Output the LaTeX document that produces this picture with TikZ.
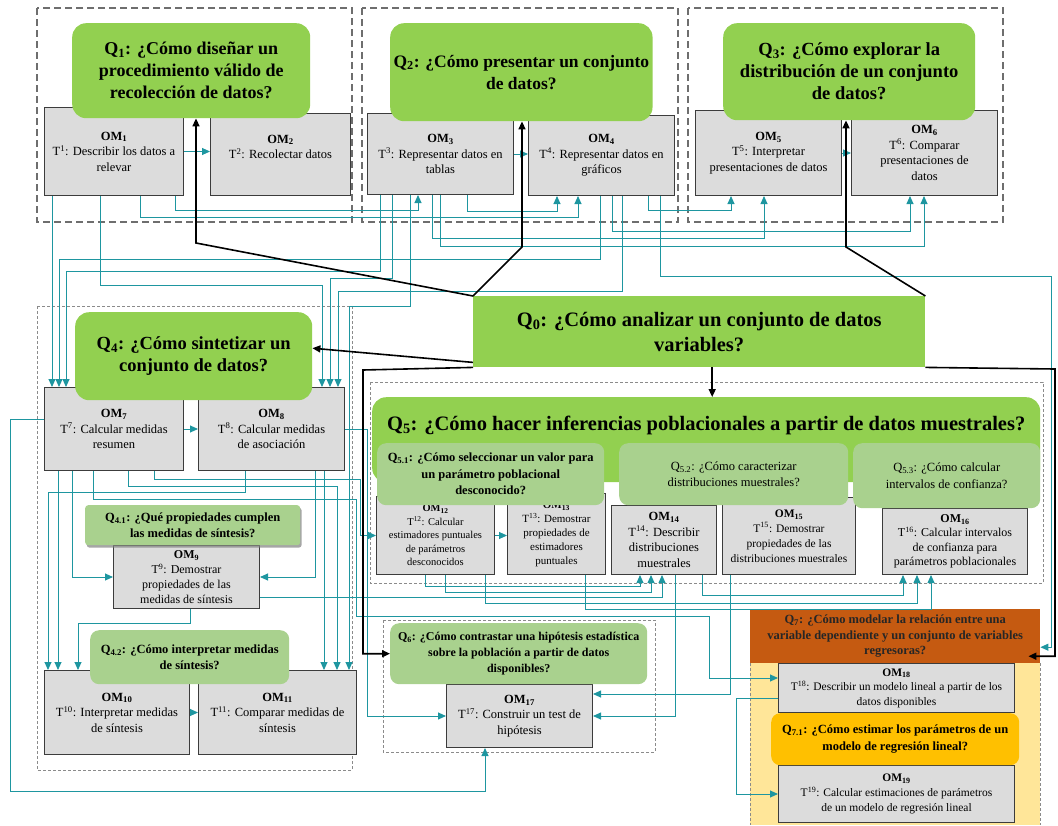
\documentclass[tikz,border=0pt]{standalone}
\usepackage{fontspec}
\setmainfont{Liberation Serif}
\usetikzlibrary{arrows.meta, shadows}
\definecolor{QGreen}{RGB}{146,208,80}
\definecolor{SubGreen}{RGB}{169,209,142}
\definecolor{OMFill}{RGB}{220,220,220}
\definecolor{OMBorder}{RGB}{60,60,60}
\definecolor{LinkColor}{RGB}{30,150,160}
\definecolor{FrameGray}{RGB}{110,110,110}
\definecolor{RegColor}{RGB}{197,90,17}
\definecolor{RegSubColor}{RGB}{255,192,0}
\definecolor{RegBack}{RGB}{255,230,153}
\tikzstyle{om} = [draw=OMBorder, fill=OMFill, line width=1pt, anchor=north west, align=center, inner sep=1pt, font=\fontsize{12.5}{15.5}\selectfont]
\tikzstyle{qmain} = [fill=QGreen, rounded corners=14pt, anchor=north west, align=center, font=\bfseries\fontsize{18.5}{22}\selectfont]
\tikzstyle{qsub} = [fill=SubGreen, rounded corners=9pt, anchor=north west, align=center, inner sep=2pt, font=\bfseries\fontsize{12.5}{16.5}\selectfont]
\tikzstyle{frame} = [draw=FrameGray, dash pattern=on 7pt off 4pt, line width=1.5pt]
\tikzstyle{thinframe} = [draw=FrameGray!80, dash pattern=on 3pt off 2pt, line width=0.6pt]
\tikzstyle{link} = [LinkColor, line width=0.9pt, -{Triangle[length=8pt,width=7pt]}]
\tikzstyle{mainarrow} = [black, line width=1.6pt, -{Triangle[length=8pt,width=7pt]}]

\begin{document}
\begin{tikzpicture}[x=1pt, y=-1pt]
\useasboundingbox (0,0) rectangle (1058,825);

% Frames
\draw[frame] (37,8) rectangle (352,222);
\draw[frame] (362,8) rectangle (678,222);
\draw[frame] (688,8) rectangle (1003,222);
\draw[thinframe] (37,306) rectangle (352,770);
\draw[thinframe] (370,382) rectangle (1043,583);
\draw[thinframe] (383,620) rectangle (655,752);
\fill[RegBack] (750,663) rectangle (1040,825);
\draw[thinframe] (750,663) -- (750,825) (1040,663) -- (1040,825);

% Tasks
\node[om, minimum width=139pt, minimum height=88pt] (om1) at (44,107) {\textbf{OM\textsubscript{1}}\\T\textsuperscript{1}: Describir los datos a\\relevar};
\node[om, minimum width=140pt, minimum height=82pt] (om2) at (210,113) {\textbf{OM\textsubscript{2}}\\T\textsuperscript{2}: Recolectar datos\\~};
\node[om, minimum width=146pt, minimum height=81pt] (om3) at (367,113) {\textbf{OM\textsubscript{3}}\\T\textsuperscript{3}: Representar datos en\\tablas};
\node[om, minimum width=146pt, minimum height=80pt] (om4) at (528,115) {\textbf{OM\textsubscript{4}}\\T\textsuperscript{4}: Representar datos en\\gráficos};
\node[om, minimum width=146pt, minimum height=85pt] (om5) at (695,110) {\textbf{OM\textsubscript{5}}\\T\textsuperscript{5}: Interpretar\\presentaciones de datos};
\node[om, minimum width=146pt, minimum height=85pt] (om6) at (851,110) {\textbf{OM\textsubscript{6}}\\T\textsuperscript{6}: Comparar\\presentaciones de\\datos};
\node[om, minimum width=139pt, minimum height=83pt] (om7) at (44,387) {\textbf{OM\textsubscript{7}}\\T\textsuperscript{7}: Calcular medidas\\resumen};
\node[om, minimum width=146pt, minimum height=83pt] (om8) at (198,387) {\textbf{OM\textsubscript{8}}\\T\textsuperscript{8}: Calcular medidas\\de asociación};
\node[om, minimum width=146pt, minimum height=63pt, font=\fontsize{12}{15}\selectfont] (om9) at (113,545) {\textbf{OM\textsubscript{9}}\\T\textsuperscript{9}: Demostrar\\propiedades de las\\medidas de síntesis};
\node[om, minimum width=145pt, minimum height=84pt] (om10) at (44,670) {\textbf{OM\textsubscript{10}}\\T\textsuperscript{10}: Interpretar medidas\\de síntesis};
\node[om, minimum width=158pt, minimum height=84pt] (om11) at (198,670) {\textbf{OM\textsubscript{11}}\\T\textsuperscript{11}: Comparar medidas de\\síntesis};
\node[om, minimum width=118pt, minimum height=78pt, font=\fontsize{10.5}{13.5}\selectfont] (om12) at (376,496) {\textbf{OM\textsubscript{12}}\\T\textsuperscript{12}: Calcular\\estimadores puntuales\\de parámetros\\desconocidos};
\node[om, minimum width=98pt, minimum height=81pt, font=\fontsize{11}{14}\selectfont] (om13) at (507,493) {\textbf{OM\textsubscript{13}}\\T\textsuperscript{13}: Demostrar\\propiedades de\\estimadores\\puntuales};
\node[om, minimum width=105pt, minimum height=69pt] (om14) at (611,505) {\textbf{OM\textsubscript{14}}\\T\textsuperscript{14}: Describir\\distribuciones\\muestrales};
\node[om, minimum width=133pt, minimum height=77pt, font=\fontsize{11.5}{15}\selectfont] (om15) at (722,497) {\textbf{OM\textsubscript{15}}\\T\textsuperscript{15}: Demostrar\\propiedades de las\\distribuciones muestrales};
\node[om, minimum width=145pt, minimum height=66pt, font=\fontsize{12}{14.5}\selectfont] (om16) at (882,508) {\textbf{OM\textsubscript{16}}\\T\textsuperscript{16}: Calcular intervalos\\de confianza para\\parámetros poblacionales};
\node[om, minimum width=146pt, minimum height=63pt] (om17) at (446,684) {\textbf{OM\textsubscript{17}}\\T\textsuperscript{17}: Construir un test de\\hipótesis};
\node[om, minimum width=236pt, minimum height=49pt, font=\fontsize{11.5}{14.5}\selectfont] (om18) at (778,663) {\textbf{OM\textsubscript{18}}\\T\textsuperscript{18}: Describir un modelo lineal a partir de los\\datos disponibles};
\node[om, minimum width=236pt, minimum height=57pt, font=\fontsize{11.5}{15}\selectfont] (om19) at (778,765) {\textbf{OM\textsubscript{19}}\\T\textsuperscript{19}: Calcular estimaciones de parámetros\\de un modelo de regresión lineal};

% Questions
\node[qmain, minimum width=238pt, minimum height=95pt, font=\bfseries\fontsize{18}{22}\selectfont] (q1) at (72,23) {Q\textsubscript{1}: ¿Cómo diseñar un\\procedimiento válido de\\recolección de datos?};
\node[qmain, minimum width=262pt, minimum height=98pt, font=\bfseries\fontsize{17.5}{22}\selectfont] (q2) at (390,23) {Q\textsubscript{2}: ¿Cómo presentar un conjunto\\de datos?};
\node[qmain, minimum width=252pt, minimum height=97pt] (q3) at (723,23) {Q\textsubscript{3}: ¿Cómo explorar la\\distribución de un conjunto\\de datos?};
\node[qmain, minimum width=237pt, minimum height=88pt] (q4) at (75,312) {Q\textsubscript{4}: ¿Cómo sintetizar un\\conjunto de datos?};
\node[fill=QGreen, anchor=north west, minimum width=452pt, minimum height=71pt, align=center, inner sep=1pt, font=\bfseries\fontsize{20.5}{25}\selectfont] (q0) at (473,296) {Q\textsubscript{0}: ¿Cómo analizar un conjunto de datos\\variables?};
\node[qmain, minimum width=668pt, inner xsep=2pt, inner ysep=4pt, text height=29pt, text depth=48pt, font=\bfseries\fontsize{20.5}{24}\selectfont] (q5) at (372,397) {Q\textsubscript{5}: ¿Cómo hacer inferencias poblacionales a partir de datos muestrales?};
\node[qsub, minimum width=227pt, minimum height=62pt] (q51) at (377,443) {Q\textsubscript{5.1}: ¿Cómo seleccionar un valor para\\un parámetro poblacional\\desconocido?};
\node[qsub, minimum width=229pt, minimum height=62pt, font=\fontsize{12.5}{16.5}\selectfont] (q52) at (619,443) {Q\textsubscript{5.2}: ¿Cómo caracterizar\\distribuciones muestrales?};
\node[qsub, minimum width=187pt, minimum height=65pt, font=\fontsize{12.5}{16.5}\selectfont] (q53) at (853,443) {Q\textsubscript{5.3}: ¿Cómo calcular\\intervalos de confianza?};
\node[qsub, rounded corners=3pt, minimum width=215pt, minimum height=40pt, drop shadow={opacity=0.7, shadow xshift=1.5pt, shadow yshift=-2.5pt}] (q41) at (85,505) {Q\textsubscript{4.1}: ¿Qué propiedades cumplen\\las medidas de síntesis?};
\node[qsub, minimum width=199pt, minimum height=54pt] (q42) at (90,630) {Q\textsubscript{4.2}: ¿Cómo interpretar medidas\\de síntesis?};
\node[qsub, minimum width=257pt, minimum height=61pt, font=\bfseries\fontsize{12}{16}\selectfont] (q6) at (390,623) {Q\textsubscript{6}: ¿Cómo contrastar una hipótesis estadística\\sobre la población a partir de datos\\disponibles?};
\node[fill=RegColor, anchor=north west, minimum width=290pt, minimum height=54pt, align=center, inner sep=1pt, text=black!85, font=\bfseries\fontsize{12.5}{15.5}\selectfont] (q7) at (750,609) {Q\textsubscript{7}: ¿Cómo modelar la relación entre una\\variable dependiente y un conjunto de variables\\regresoras?};
\node[qsub, fill=RegSubColor, minimum width=248pt, minimum height=52pt] (q71) at (771,713) {Q\textsubscript{7.1}: ¿Cómo estimar los parámetros de un\\modelo de regresión lineal?};

% Links between tasks
\draw[link] (om1.east) -- (om1.east -| om2.west);
\draw[link] (om3.east) -- (om3.east -| om4.west);
\draw[link] (om5.east) -- (om5.east -| om6.west);
\draw[link] (om7.east) -- (om7.east -| om8.west);
\draw[link] (om10.east) -- (om10.east -| om11.west);
\draw[link] (om12.east) -- (om12.east -| om13.west);
\draw[link] (om1.south -| 175,0) -- ++(0,14) -| (om3.south -| 418,0);
\draw[link] (om1.south -| 140,0) -- ++(0,21) -| (om4.south -| 578,0);
\draw[link] (om3.south -| 467,0) -- ++(0,16) -| (om4.south -| 557,0);
\draw[link] (om4.south -| 648,0) -- ++(0,14) -| (om5.south -| 731,0);
\draw[link] (om4.south -| 612,0) -- ++(0,35) -| (om6.south -| 910,0);
\draw[link] (om3.south -| 432,0) -- ++(0,43) -| (om5.south -| 764,0);
\draw[link] (om3.south -| 440,0) -- ++(0,51) -| (om6.south -| 924,0);
\draw[link] (om1.south -| 52,0) -- (om7.north -| 52,0);
\draw[link] (om4.south -| 600,0) -- ++(0,63) -| (om7.north -| 59,0);
\draw[link] (om3.south -| 380,0) -- ++(0,76) -| (om7.north -| 66,0);
\draw[link] (om1.south -| 100,0) -- ++(0,89) -| (om8.north -| 322,0);
\draw[link] (om3.south -| 392,0) -- ++(0,83) -| (om8.north -| 330,0);
\draw[link] (om4.south -| 622,0) -- ++(0,95) -| (om8.north -| 338,0);
\draw[link] (om3.south -| 410,0) -- ++(0,111) -| (om11.north -| 349,0);
\draw[link] (om4.south -| 660,0) -- ++(0,80) -- ++(391,0) |- ([yshift=-11pt]q7.east);
\draw[link] (om8.south -| 245,0) -- ++(0,21) -| (om10.north -| 48,0);
\draw[link] (om7.south -| 58,0) -- (om10.north -| 58,0);
\draw[link] (om9.south -| 190,0) -- ++(0,14) -| (om10.north -| 78,0);
\draw[link] (om7.south -| 72,0) |- (om9.west);
\draw[link] (om8.south -| 315,0) |- (om9.east);
\draw[link] (om8.south -| 324,0) -- (om11.north -| 324,0);
\draw[link] (om7.south -| 128,0) -- ++(0,15) -| (om11.north -| 337,0);
\draw[link] (om7.south -| 154,0) -- ++(0,8) -| ([xshift=-16pt]om12.west) -- (om12.west);
\draw[link] (om8.east) -- ++(22,0) |- (om17.west);
\draw[link] (om7.south -| 93,0) -- ++(0,28) -- ++(263,0) -- ++(0,117) -| ([xshift=-69pt,yshift=10pt]om18.west) -- ([yshift=10pt]om18.west);
\draw[link] ([yshift=-20pt]om9.east) -| (om14.south -| 662,0);
\draw[link] (om12.south -| 425,0) -- ++(0,11) -| (om14.south -| 640,0);
\draw[link] (om12.south -| 445,0) -- ++(0,17) -| (om14.south -| 651,0);
\draw[link] (om14.south -| 702,0) -- ++(0,20) -| (om16.south -| 903,0);
\draw[link] (om12.south -| 485,0) -- ++(0,28) -| (om16.south -| 917,0);
\draw[link] (om13.south -| 585,0) -- ++(0,34) -| (om16.south -| 931,0);
\draw[link] (om14.south -| 675,0) |- (om17.east);
\draw[link] (om15.south -| 730,0) |- ([yshift=22pt]om17.east);
\draw[link] ([yshift=-10pt]om18.west) -- ++(-42,0) |- (om19.west);
\draw[link] ([yshift=10pt]om7.west) -- ++(-34,0) -- ++(0,372) -| (om17.south -| 485,0);

% Main question to sub questions
\coordinate (k1) at (196,243);
\coordinate (k2) at (522,247);
\coordinate (k3) at (846,247);
\coordinate (k5) at ([xshift=13pt]q0.south);
\coordinate (k6) at (363,370);
\coordinate (k7) at (1055,369);
\draw[mainarrow] (q0.north west) -- (k1) -- (k1 |- q1.south);
\draw[mainarrow] (q0.north west) -- (k2) -- (k2 |- q2.south);
\draw[mainarrow] (q0.north east) -- (k3) -- (k3 |- q3.south);
\draw[mainarrow] ([yshift=5pt]q0.south west) -- ([yshift=8pt]q4.east);
\draw[mainarrow] (k5) -- (k5 |- q5.north);
\draw[mainarrow] (q0.south west) -- (k6) |- (q6.west);
\draw[mainarrow] (q0.south east) -- (k7) |- ([xshift=-12pt,yshift=-20pt]q7.east);
\end{tikzpicture}
\end{document}
